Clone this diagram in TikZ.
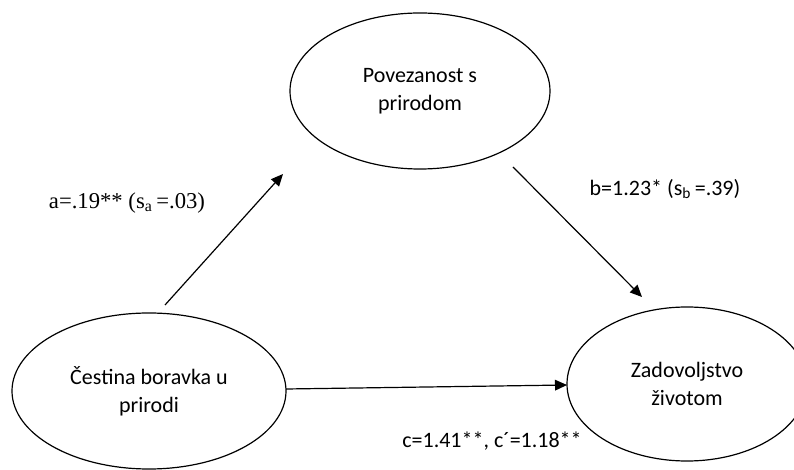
\documentclass[tikz,border=0pt]{standalone}
\usepackage{fontspec}
\setmainfont{Carlito}
\newfontfamily\timesfont{Liberation Serif}
\usetikzlibrary{shapes.geometric,arrows.meta}
\tikzset{
  var/.style={ellipse, draw, line width=0.9pt, inner sep=0pt, align=center,
    font=\fontsize{16.5}{21}\selectfont},
  arr/.style={line width=0.9pt, -{Triangle[length=9pt,width=8pt]}},
  lbl/.style={inner sep=0pt, font=\fontsize{16.5}{20}\selectfont}
}
\begin{document}
\begin{tikzpicture}[x=0.75pt,y=-0.75pt]
\useasboundingbox (0,0) rectangle (794,470);
\node[var, minimum width=260*0.75pt, minimum height=156*0.75pt] (T) at (420,91) {Povezanost s\\prirodom};
\node[var, minimum width=274*0.75pt, minimum height=156*0.75pt] (L) at (149,391) {Čestina boravka u\\prirodi};
\node[var, minimum width=240*0.75pt, minimum height=154*0.75pt] (R) at (687,384) {Zadovoljstvo\\životom};
\coordinate (a1) at (165,305);
\coordinate (a2) at (283,174);
\coordinate (b1) at (513,167);
\coordinate (b2) at (642,297);
\coordinate (c1) at (286,389);
\coordinate (c2) at (567,385);
\draw[arr] (a1) -- (a2);
\draw[arr] (b1) -- (b2);
\draw[arr] (c1) -- (c2);
\node[lbl, font=\timesfont\fontsize{17}{20}\selectfont] (la) at (127,203) {a=.19** (s\textsubscript{a}\,=.03)};
\node[lbl] (lb) at (665,189) {b=1.23* (s\textsubscript{b}\,=.39)};
\node[lbl] (lc) at (492,441) {c=1.41**, c´=1.18**};
\end{tikzpicture}
\end{document}
